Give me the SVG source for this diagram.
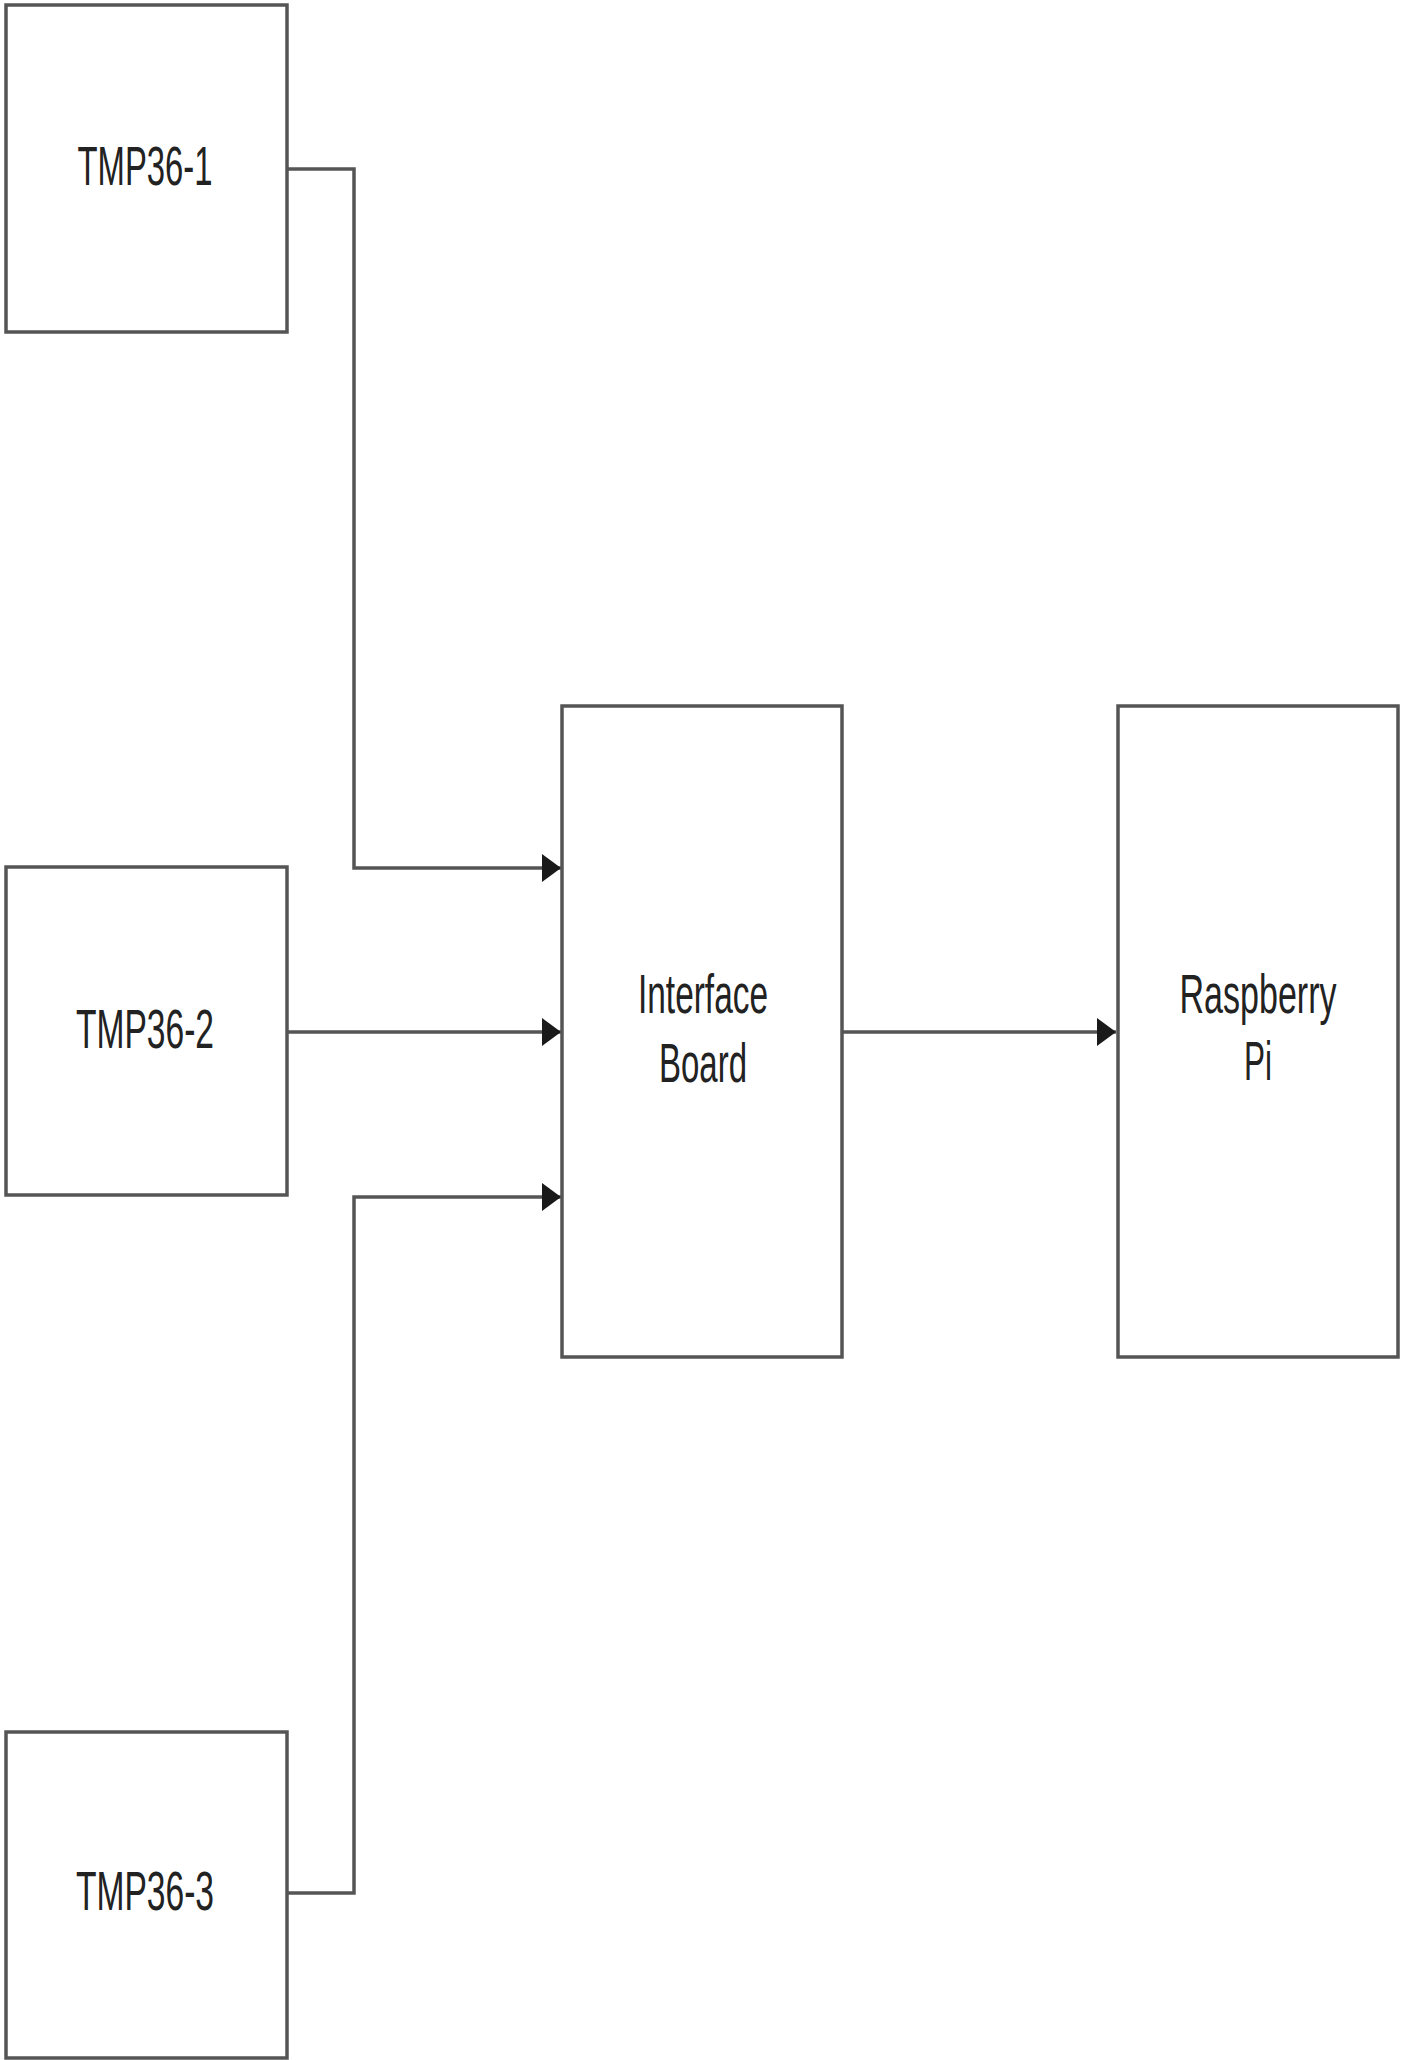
<svg xmlns="http://www.w3.org/2000/svg" width="1403" height="2060" viewBox="0 0 1403 2060">
<style>
.box{fill:#fff;stroke:#555;stroke-width:3.5}
.lbl{font-family:"Liberation Sans",Arial,sans-serif;font-size:56px;fill:#222;text-anchor:middle}
.wire{fill:none;stroke:#555;stroke-width:3.5}
</style>
<defs>
<marker id="arr" markerUnits="userSpaceOnUse" markerWidth="20" markerHeight="28" refX="19" refY="14" orient="auto">
<path d="M0,0 L19,14 L0,28 Z" fill="#1a1a1a"/>
</marker>
</defs>
<rect width="1403" height="2060" fill="#fff"/>
<g id="connectors">
<path class="wire" d="M287,169 H354 V868 H561" marker-end="url(#arr)"/>
<path class="wire" d="M287,1032 H561" marker-end="url(#arr)"/>
<path class="wire" d="M287,1893 H354 V1197 H561" marker-end="url(#arr)"/>
<path class="wire" d="M842,1032 H1116" marker-end="url(#arr)"/>
</g>
<g id="tmp36-1">
<rect class="box" x="6" y="5" width="281" height="327"/>
<text class="lbl" x="145" y="185" textLength="135" lengthAdjust="spacingAndGlyphs">TMP36-1</text>
</g>
<g id="tmp36-2">
<rect class="box" x="6" y="867" width="281" height="328"/>
<text class="lbl" x="145" y="1048" textLength="138" lengthAdjust="spacingAndGlyphs">TMP36-2</text>
</g>
<g id="tmp36-3">
<rect class="box" x="6" y="1732" width="281" height="326"/>
<text class="lbl" x="145" y="1910" textLength="138" lengthAdjust="spacingAndGlyphs">TMP36-3</text>
</g>
<g id="interface-board">
<rect class="box" x="562" y="706" width="280" height="651"/>
<text class="lbl" x="703" y="1013" textLength="130" lengthAdjust="spacingAndGlyphs">Interface</text>
<text class="lbl" x="703" y="1082" textLength="88" lengthAdjust="spacingAndGlyphs">Board</text>
</g>
<g id="raspberry-pi">
<rect class="box" x="1118" y="706" width="280" height="651"/>
<text class="lbl" x="1258" y="1013" textLength="157" lengthAdjust="spacingAndGlyphs">Raspberry</text>
<text class="lbl" x="1258" y="1080" textLength="28" lengthAdjust="spacingAndGlyphs">Pi</text>
</g>
</svg>
